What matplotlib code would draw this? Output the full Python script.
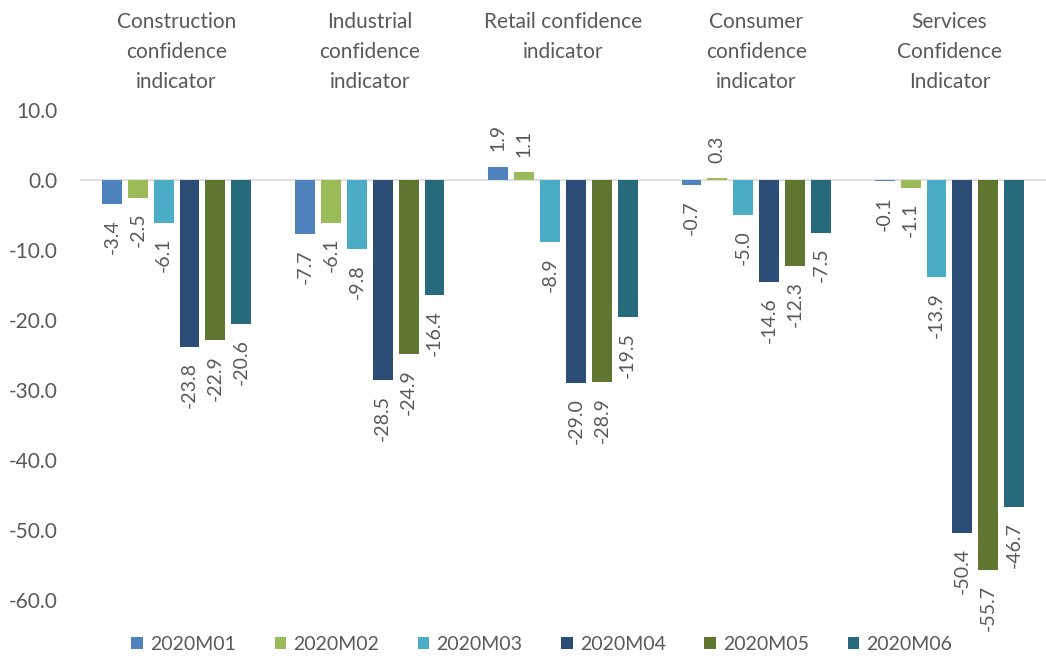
import numpy as np
import matplotlib.pyplot as plt

categories = ['Construction\nconfidence\nindicator', 'Industrial\nconfidence\nindicator',
              'Retail confidence\nindicator', 'Consumer\nconfidence\nindicator',
              'Services\nConfidence\nIndicator']
series = ['2020M01', '2020M02', '2020M03', '2020M04', '2020M05', '2020M06']
m01 = [-3.4, -7.7, 1.9, -0.7, -0.1]
m02 = [-2.5, -6.1, 1.1, 0.3, -1.1]
m03 = [-6.1, -9.8, -8.9, -5.0, -13.9]
m04 = [-23.8, -28.5, -29.0, -14.6, -50.4]
m05 = [-22.9, -24.9, -28.9, -12.3, -55.7]
m06 = [-20.6, -16.4, -19.5, -7.5, -46.7]
colors = ['#4F81BD', '#9BBB59', '#4BACC6', '#2C4D75', '#5F7530', '#276A7C']

plt.rcParams['font.family'] = ['Lato', 'DejaVu Sans']
grey = '#595959'

fig = plt.figure(figsize=(10.46, 6.61), dpi=100)
# axes spans y=110..600 px, x=80..1046 px
ax = fig.add_axes([80 / 1046, 61 / 661, 966 / 1046, 490 / 661])

x = np.arange(len(categories))
pitch = 0.134
width = 0.103
for i, (name, vals) in enumerate(zip(series, [m01, m02, m03, m04, m05, m06])):
    xs = x + (i - 2.5) * pitch
    ax.bar(xs, vals, width=width, color=colors[i], label=name, zorder=2)
    for xi, v in zip(xs, vals):
        if v >= 0:
            ax.annotate(f'{v:.1f}', (xi, v), xytext=(0, 11), textcoords='offset points',
                        rotation=90, ha='center', va='bottom', fontsize=14, color=grey)
        else:
            ax.annotate(f'{v:.1f}', (xi, v), xytext=(0, -11), textcoords='offset points',
                        rotation=90, ha='center', va='top', fontsize=14, color=grey)

ax.set_xlim(-0.5, len(categories) - 0.5)
ax.set_ylim(-60, 10)
ax.set_yticks(np.arange(-60, 11, 10))
ax.set_yticklabels([f'{t:.1f}' for t in np.arange(-60, 11, 10)])
ax.axhline(0, color='#D9D9D9', linewidth=1.2, zorder=1)
for s in ax.spines.values():
    s.set_visible(False)
ax.tick_params(axis='y', length=0, labelsize=15, labelcolor=grey, pad=16)
ax.tick_params(axis='x', length=0)
ax.set_xticks([])
for xi, c in zip(x, categories):
    ax.text(xi, 1.0 + 98 / 490, c, transform=ax.get_xaxis_transform(), ha='center', va='top',
            fontsize=15, color=grey, linespacing=1.64)

ax.legend(loc='center', bbox_to_anchor=(0.478, -0.09), ncol=6, frameon=False, fontsize=14,
          handlelength=0.6, handleheight=0.6, handletextpad=0.35, columnspacing=2.0,
          labelcolor=grey)

fig.savefig('out.png', dpi=100)
